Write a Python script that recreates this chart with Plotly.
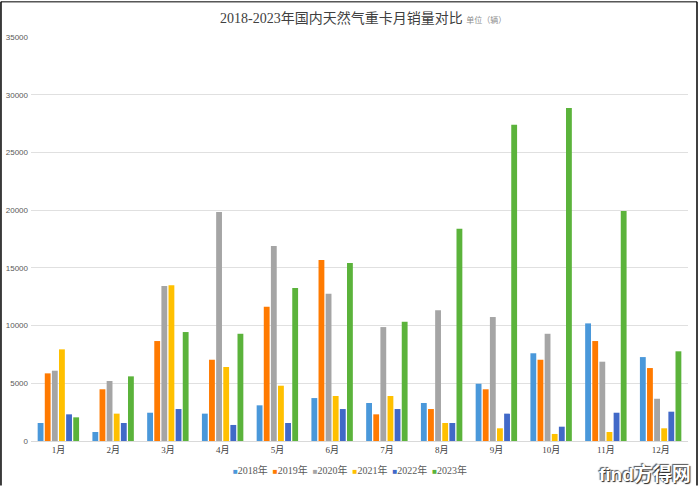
import plotly.graph_objects as go

months = ["1月", "2月", "3月", "4月", "5月", "6月", "7月", "8月", "9月", "10月", "11月", "12月"]
s2018 = [1560, 780, 2450, 2370, 3090, 3720, 3290, 3290, 4960, 7600, 10190, 7270]
s2019 = [5860, 4480, 8660, 7040, 11630, 15670, 2310, 2770, 4480, 7040, 8660, 6320]
s2020 = [6090, 5200, 13420, 19830, 16890, 12760, 9870, 11320, 10740, 9290, 6870, 3660]
s2021 = [7940, 2370, 13500, 6410, 4790, 3900, 3900, 1560, 1100, 610, 780, 1100]
s2022 = [2310, 1560, 2770, 1390, 1560, 2770, 2770, 1560, 2370, 1240, 2450, 2540]
s2023 = [2050, 5600, 9440, 9290, 13250, 15410, 10330, 18390, 27390, 28840, 19920, 7770]
series_names = ["2018年", "2019年", "2020年", "2021年", "2022年", "2023年"]
yticks = [0, 5000, 10000, 15000, 20000, 25000, 30000, 35000]
ytick_text = ["0", "5000", "10000", "15000", "20000", "25000", "30000", "35000"]

colors = ["#4A98DA", "#FF7A00", "#A5A5A5", "#FFC000", "#4169C8", "#5BB33B"]
data = [s2018, s2019, s2020, s2021, s2022, s2023]

fig = go.Figure()
for name, vals, c in zip(series_names, data, colors):
    fig.add_trace(go.Bar(x=months, y=vals, name=name, showlegend=False,
                         marker=dict(color=c, line=dict(width=0))))

# compact legend built as one text line
legend_text = "&nbsp;&nbsp;".join(
    f"<span style='color:{c};font-size:8px'>■</span>{n}" for n, c in zip(series_names, colors)
)

serif = "Liberation Serif, Noto Sans CJK SC, serif"
fig.update_layout(
    width=700, height=488,
    margin=dict(l=31, r=12, t=37, b=47, autoexpand=False),
    paper_bgcolor="white", plot_bgcolor="white",
    barmode="group", bargap=0.22, bargroupgap=0.18,
    showlegend=False,
    xaxis=dict(showgrid=False, showline=True, linecolor="#D9D9D9", linewidth=1,
               tickfont=dict(family=serif, size=9, color="#404040"), ticks="",
               fixedrange=True, automargin=False),
    yaxis=dict(range=[0, 35000], tickvals=yticks, ticktext=ytick_text, showgrid=True,
               gridcolor="#E0E0E0", gridwidth=1, zeroline=False, automargin=False,
               tickfont=dict(family="Liberation Sans", size=8, color="#595959"),
               ticks="", ticklabelstandoff=2),
    annotations=[
        dict(xref="paper", yref="paper", x=0.505, y=1.047, xanchor="center", yanchor="middle",
             showarrow=False,
             text="2018-2023年国内天然气重卡月销量对比 <span style='font-size:8px;color:#8C8C8C'>单位（辆）</span>",
             font=dict(family=serif, size=14, color="#404040")),
        dict(xref="paper", yref="paper", x=0.486, y=-0.072, xanchor="center", yanchor="middle",
             showarrow=False, text=legend_text,
             font=dict(family="Liberation Serif, Noto Sans CJK SC", size=10, color="#595959")),
        dict(xref="paper", yref="paper", x=0.935, y=-0.082, xanchor="center", yanchor="middle",
             showarrow=False, text="<b>find方得网</b>",
             font=dict(family="Liberation Sans, Noto Sans CJK SC", size=19, color="white",
                       shadow="1px 1px 1px #222, -1px -1px 1px #555")),
    ],
    shapes=[
        dict(type="line", xref="paper", yref="paper", x0=-0.0457, x1=-0.0457, y0=-0.11, y1=1.087,
             line=dict(color="black", width=1.5)),
        dict(type="line", xref="paper", yref="paper", x0=1.0137, x1=1.0137, y0=-0.11, y1=1.087,
             line=dict(color="black", width=1.5)),
        dict(type="line", xref="paper", yref="paper", x0=-0.0457, x1=1.0137, y0=1.087, y1=1.087,
             line=dict(color="black", width=1)),
    ],
)

fig.write_html("out.html", config={"displayModeBar": False},
               post_script="document.body.style.margin='0';document.body.style.overflow='hidden';")
